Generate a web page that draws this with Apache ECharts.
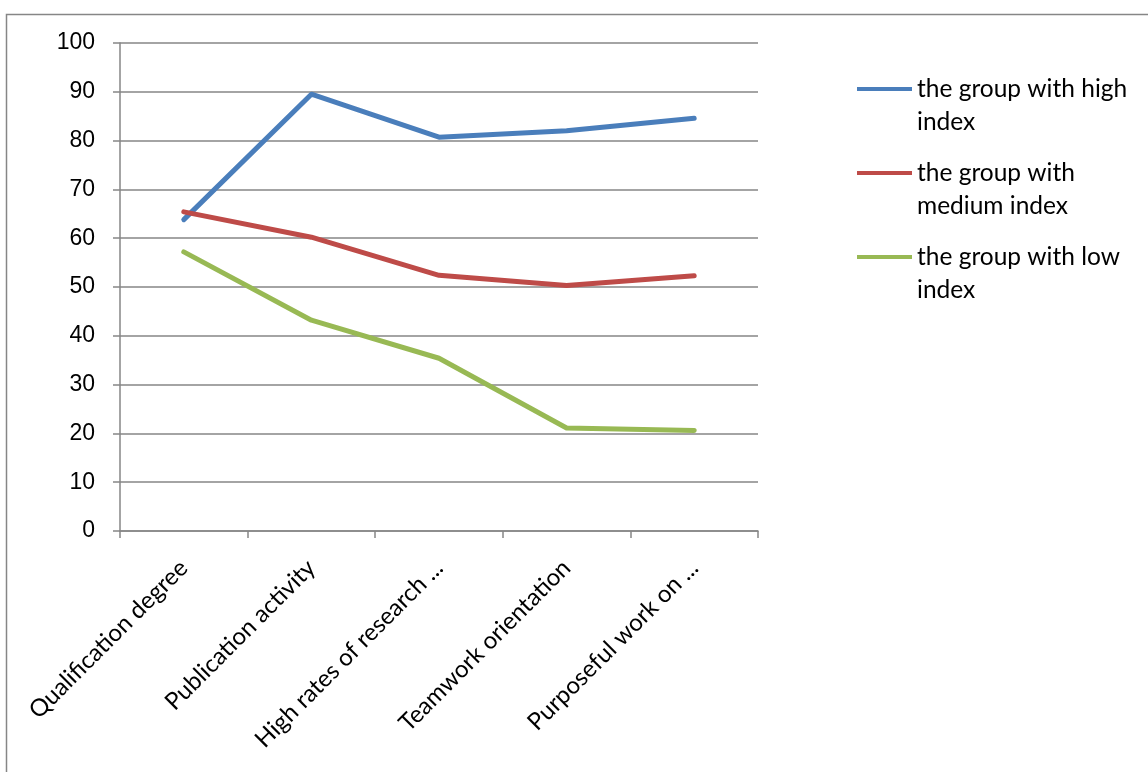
<!DOCTYPE html>
<html>
<head>
<meta charset="utf-8">
<script src="https://cdn.jsdelivr.net/npm/echarts@6/dist/echarts.min.js"></script>
<style>
html,body{margin:0;padding:0;background:#fff;}
#chart{width:1148px;height:772px;}
</style>
</head>
<body>
<div id="chart"></div>
<script>
// Indicator categories along the x axis
const categories = [
  'Qualification degree',
  'Publication activity',
  'High rates of research ...',
  'Teamwork orientation',
  'Purposeful work on ...'
];
// Series names and values (percent)
const seriesNames = [
  'the group with high\nindex',
  'the group with\nmedium index',
  'the group with low\nindex'
];
const highIndex = [63.8, 89.5, 80.7, 82.0, 84.6];
const mediumIndex = [65.4, 60.2, 52.4, 50.3, 52.3];
const lowIndex = [57.2, 43.2, 35.4, 21.1, 20.6];
const seriesColors = ['#4A7EBB', '#BE4B48', '#98B954'];

const gray = '#868686';
const chart = echarts.init(document.getElementById('chart'));

const mk = (name, data, color) => ({
  name, type: 'line', data,
  symbol: 'none',
  lineStyle: { color, width: 5, cap: 'round', join: 'round' },
  itemStyle: { color }
});

// Legend label: an empty first line keeps the swatch level with the first text line
const legendLabel = name => '{e| }\n{t|' + name.split('\n').join('}\n{t|') + '}';

chart.setOption({
  animation: false,
  backgroundColor: '#fff',
  graphic: [{
    type: 'rect', left: 4, top: 12,
    shape: { width: 1200, height: 800 },
    style: { fill: 'none', stroke: gray, lineWidth: 1.5 }
  }],
  grid: { left: 120, right: 390, top: 43, bottom: 241 },
  legend: {
    orient: 'vertical',
    left: 857,
    top: 43.5,
    padding: 0,
    itemWidth: 55,
    itemHeight: 4,
    itemGap: -7,
    icon: 'rect',
    data: seriesNames,
    formatter: legendLabel,
    textStyle: {
      fontFamily: 'Lato',
      fontSize: 24.5,
      color: '#000',
      rich: {
        e: { fontFamily: 'Lato', fontSize: 24.5, lineHeight: 33 },
        t: { fontFamily: 'Lato', fontSize: 24.5, lineHeight: 33, color: '#000' }
      }
    }
  },
  xAxis: {
    type: 'category',
    data: categories,
    boundaryGap: true,
    axisLine: { lineStyle: { color: gray, width: 1.5 } },
    axisTick: { show: true, length: 7, alignWithLabel: false, lineStyle: { color: gray, width: 1.5 } },
    axisLabel: {
      rotate: 45,
      interval: 0,
      margin: 33,
      fontFamily: 'Lato',
      fontSize: 24,
      color: '#000'
    }
  },
  yAxis: {
    type: 'value',
    min: 0, max: 100, interval: 10,
    axisLine: { show: true, lineStyle: { color: gray, width: 1.5 } },
    axisTick: { show: true, length: 7, lineStyle: { color: gray, width: 1.5 } },
    splitLine: { lineStyle: { color: gray, width: 1.5 } },
    axisLabel: {
      margin: 25,
      fontFamily: 'Liberation Sans',
      fontSize: 23,
      color: '#000'
    }
  },
  series: [
    mk(seriesNames[0], highIndex, seriesColors[0]),
    mk(seriesNames[1], mediumIndex, seriesColors[1]),
    mk(seriesNames[2], lowIndex, seriesColors[2])
  ]
});
</script>
</body>
</html>
